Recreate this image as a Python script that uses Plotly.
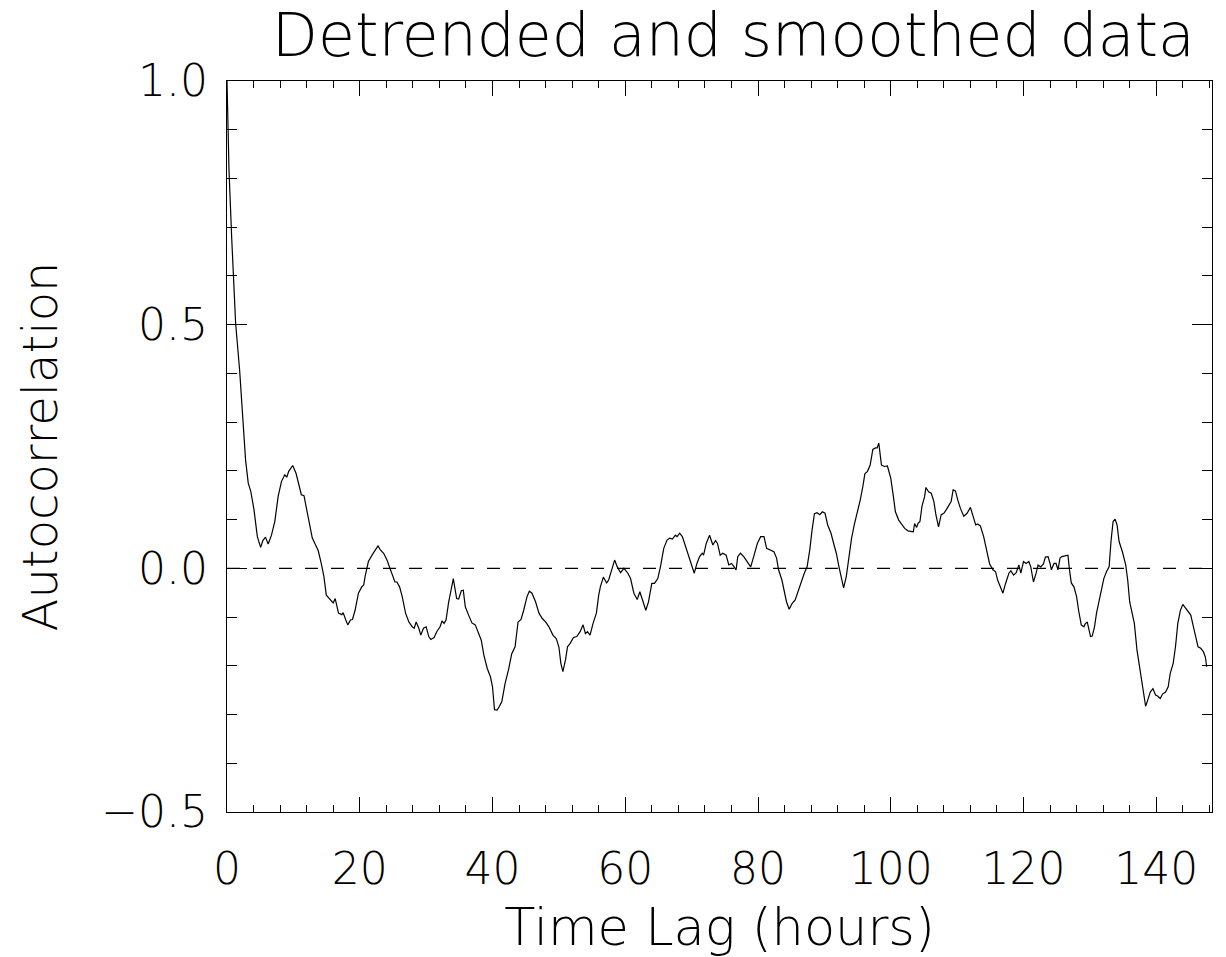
import plotly.graph_objects as go

# Autocorrelation of the detrended, smoothed series versus time lag
lag_hours = [
    0.0, 0.3, 0.7, 1.05, 1.3, 1.9, 2.4, 2.8, 3.2, 3.6, 4.07, 4.57, 5.07, 5.4, 5.8,
    6.2, 6.7, 7.2, 7.7, 8.2, 8.7, 9.0, 9.3, 9.9, 10.4, 10.9, 11.2, 11.6, 12.1,
    12.45, 12.85, 13.35, 13.75, 14.2, 14.6, 14.96, 15.6, 16.0, 16.3, 16.8, 17.3,
    17.5, 17.9, 18.2, 18.6, 18.9, 19.3, 19.8, 20.3, 20.6, 20.8, 21.3, 21.85, 22.35,
    22.75, 23.1, 23.6, 24.1, 24.5, 24.9, 25.3, 25.6, 26.0, 26.4, 26.9, 27.4, 27.9,
    28.2, 28.5, 28.9, 29.2, 29.6, 30.0, 30.4, 30.7, 31.2, 31.6, 32.1, 32.4, 32.7,
    33.0, 33.4, 33.8, 34.1, 34.3, 34.6, 34.9, 35.3, 35.6, 35.9, 36.4, 36.9, 37.4,
    37.9, 38.3, 38.7, 39.2, 39.7, 40.0, 40.3, 40.7, 41.0, 41.4, 41.9, 42.4, 42.9,
    43.4, 43.85, 44.3, 44.7, 45.2, 45.55, 45.95, 46.5, 47.0, 47.5, 48.0, 48.5,
    49.1, 49.6, 50.0, 50.3, 50.6, 51.0, 51.3, 51.7, 52.2, 52.7, 53.2, 53.65, 54.0,
    54.3, 54.7, 55.15, 55.65, 56.0, 56.25, 56.7, 57.2, 57.5, 58.0, 58.4, 58.8,
    59.3, 59.8, 60.4, 60.8, 61.3, 61.8, 62.2, 62.7, 63.1, 63.5, 64.0, 64.4, 64.9,
    65.3, 65.8, 66.3, 66.7, 67.1, 67.55, 67.8, 68.2, 68.6, 69.1, 69.6, 69.9, 70.4,
    70.8, 71.2, 71.6, 71.8, 72.2, 72.7, 73.2, 73.6, 73.9, 74.3, 74.7, 75.2, 75.6,
    76.0, 76.3, 76.7, 76.95, 77.35, 77.85, 78.4, 78.9, 79.35, 79.9, 80.4, 80.9,
    81.3, 81.9, 82.4, 82.8, 83.1, 83.6, 84.0, 84.3, 84.7, 85.1, 85.6, 86.1, 86.6,
    87.0, 87.4, 87.8, 88.15, 88.5, 88.9, 89.3, 89.7, 90.1, 90.5, 91.0, 91.4, 91.8,
    92.2, 92.6, 92.9, 93.3, 93.7, 94.1, 94.5, 94.9, 95.4, 95.8, 96.1, 96.5, 96.9,
    97.3, 97.7, 97.95, 98.2, 98.6, 99.05, 99.5, 100.0, 100.4, 100.7, 101.2, 101.7,
    102.1, 102.6, 103.1, 103.4, 103.6, 103.9, 104.1, 104.4, 104.7, 105.1, 105.3,
    105.7, 106.1, 106.5, 106.8, 107.2, 107.6, 108.0, 108.4, 108.75, 109.1, 109.4,
    109.75, 110.1, 110.5, 111.0, 111.5, 112.0, 112.4, 112.8, 113.1, 113.5, 114.0,
    114.5, 114.9, 115.4, 115.8, 116.1, 116.5, 116.9, 117.3, 117.8, 118.1, 118.5,
    118.9, 119.3, 119.6, 120.0, 120.4, 120.8, 121.1, 121.5, 121.9, 122.2, 122.6,
    123.0, 123.3, 123.7, 124.0, 124.2, 124.6, 124.9, 125.2, 125.5, 125.8, 126.3,
    126.7, 126.9, 127.2, 127.6, 128.0, 128.3, 128.7, 129.1, 129.3, 129.6, 129.85,
    130.1, 130.35, 130.7, 131.0, 131.4, 131.8, 132.1, 132.5, 132.9, 133.2, 133.5,
    133.8, 134.1, 134.4, 134.9, 135.4, 135.7, 136.0, 136.4, 136.7, 137.1, 137.5,
    137.9, 138.1, 138.4, 138.7, 139.1, 139.5, 139.9, 140.2, 140.6, 140.95, 141.4,
    141.8, 142.1, 142.55, 142.9, 143.25, 143.65, 144.0, 144.4, 144.75, 145.2,
    145.5, 145.9, 146.3, 146.7, 147.1, 147.4, 147.6,
]

autocorr = [
    1.0, 0.818, 0.68, 0.578, 0.503, 0.407, 0.29, 0.222, 0.175, 0.157, 0.12, 0.065,
    0.043, 0.057, 0.064, 0.05, 0.068, 0.096, 0.147, 0.178, 0.192, 0.187, 0.199,
    0.211, 0.195, 0.164, 0.151, 0.149, 0.113, 0.085, 0.062, 0.048, 0.036, 0.010,
    -0.017, -0.055, -0.065, -0.071, -0.062, -0.092, -0.095, -0.091, -0.106, -0.116,
    -0.106, -0.105, -0.086, -0.051, -0.038, -0.034, -0.017, 0.014, 0.027, 0.038,
    0.046, 0.038, 0.031, 0.017, 0.003, -0.010, -0.028, -0.028, -0.038, -0.058,
    -0.092, -0.110, -0.120, -0.123, -0.110, -0.123, -0.137, -0.123, -0.120, -0.140,
    -0.146, -0.142, -0.130, -0.120, -0.108, -0.113, -0.106, -0.069, -0.038, -0.021,
    -0.038, -0.062, -0.063, -0.046, -0.045, -0.079, -0.096, -0.112, -0.116, -0.134,
    -0.147, -0.178, -0.205, -0.223, -0.243, -0.290, -0.291, -0.284, -0.274, -0.236,
    -0.209, -0.175, -0.161, -0.110, -0.105, -0.086, -0.058, -0.047, -0.051, -0.069,
    -0.092, -0.103, -0.110, -0.120, -0.137, -0.144, -0.161, -0.195, -0.212, -0.188,
    -0.161, -0.154, -0.142, -0.140, -0.130, -0.116, -0.134, -0.130, -0.137, -0.113,
    -0.092, -0.055, -0.038, -0.018, -0.030, -0.024, 0.0, 0.017, 0.003, -0.009, 0.0,
    -0.010, -0.021, -0.051, -0.064, -0.048, -0.069, -0.086, -0.069, -0.031, -0.031,
    -0.021, 0.003, 0.041, 0.058, 0.062, 0.060, 0.068, 0.065, 0.072, 0.065, 0.044,
    0.024, 0.010, -0.010, 0.010, 0.024, 0.031, 0.027, 0.051, 0.068, 0.048, 0.057,
    0.051, 0.027, 0.031, 0.027, 0.007, 0.010, 0.005, -0.003, 0.024, 0.031, 0.024,
    0.012, 0.003, 0.024, 0.051, 0.065, 0.065, 0.041, 0.038, 0.034, 0.021, -0.003,
    -0.024, -0.048, -0.069, -0.084, -0.073, -0.065, -0.045, -0.024, -0.009, 0.003,
    0.038, 0.079, 0.112, 0.114, 0.110, 0.116, 0.113, 0.089, 0.072, 0.051, 0.031,
    0.003, -0.024, -0.040, -0.017, 0.024, 0.062, 0.089, 0.110, 0.140, 0.168, 0.194,
    0.199, 0.212, 0.244, 0.247, 0.247, 0.257, 0.212, 0.209, 0.210, 0.185, 0.147,
    0.116, 0.099, 0.089, 0.082, 0.077, 0.075, 0.075, 0.092, 0.084, 0.092, 0.096,
    0.127, 0.147, 0.166, 0.157, 0.154, 0.137, 0.110, 0.085, 0.110, 0.113, 0.121,
    0.130, 0.137, 0.161, 0.159, 0.140, 0.123, 0.107, 0.113, 0.125, 0.107, 0.089,
    0.091, 0.087, 0.065, 0.031, 0.009, -0.003, -0.007, -0.024, -0.038, -0.051,
    -0.031, -0.010, -0.005, -0.014, -0.009, 0.007, -0.010, 0.014, 0.010, 0.014,
    0.003, -0.028, -0.010, 0.007, 0.003, 0.009, 0.023, 0.024, 0.010, -0.003, 0.010,
    0.010, -0.003, 0.021, 0.024, 0.025, 0.027, 0.0, -0.030, -0.038, -0.058, -0.086,
    -0.116, -0.120, -0.114, -0.110, -0.123, -0.140, -0.139, -0.120, -0.092, -0.065,
    -0.045, -0.021, -0.007, 0.003, 0.058, 0.096, 0.101, 0.089, 0.055, 0.034, 0.007,
    -0.024, -0.069, -0.092, -0.113, -0.168, -0.205, -0.243, -0.264, -0.283, -0.271,
    -0.254, -0.247, -0.260, -0.262, -0.267, -0.258, -0.254, -0.243, -0.216, -0.195,
    -0.161, -0.113, -0.086, -0.074, -0.082, -0.089, -0.096, -0.114, -0.139, -0.161,
    -0.164, -0.171, -0.182, -0.202,
]

x_range = [0, 148.4]
y_range = [-0.5, 1.0]
x_tick_vals = [0, 20, 40, 60, 80, 100, 120, 140]
y_tick_vals = [-0.5, 0.0, 0.5, 1.0]

title_text = "Detrended and smoothed data"
x_title = "Time Lag (hours)"
y_title = "Autocorrelation"

FONT = "DejaVu Sans"
INK = "black"

fig = go.Figure()

fig.add_trace(go.Scatter(
    x=lag_hours, y=autocorr, mode="lines",
    line=dict(color=INK, width=1.2),
    showlegend=False, hoverinfo="skip",
))

# zero reference line
fig.add_shape(
    type="line", xref="paper", yref="y", x0=0, x1=1, y0=0, y1=0,
    line=dict(color=INK, width=1.2, dash="13px,13px"),
)

axis_common = dict(
    showline=True, linecolor=INK, linewidth=1.3, mirror="ticks",
    ticks="inside", tickcolor=INK, tickwidth=1.2,
    showgrid=False, zeroline=False, automargin=False,
    tickfont=dict(family=FONT, size=44, color=INK, weight=200),
)

fig.update_xaxes(
    range=x_range, tickvals=x_tick_vals, ticklen=14.6,
    minor=dict(ticks="inside", ticklen=7.3, dtick=4, tickcolor=INK, tickwidth=1.2),
    title=dict(text=x_title, font=dict(family=FONT, size=51, color=INK, weight=200),
               standoff=16),
    ticklabelstandoff=18,
    **axis_common,
)
fig.update_yaxes(
    range=y_range, tickvals=y_tick_vals, tickformat=".1f", ticklen=19.7,
    minor=dict(ticks="inside", ticklen=9.85, dtick=0.1, tickcolor=INK, tickwidth=1.2),
    title=dict(text=y_title, font=dict(family=FONT, size=48, color=INK, weight=200),
               standoff=28),
    ticklabelstandoff=9,
    **axis_common,
)

fig.update_layout(
    width=1226, height=957,
    margin=dict(l=227, r=14, t=81, b=145),
    paper_bgcolor="white", plot_bgcolor="white",
    title=dict(text=title_text, x=0.514, xref="paper", xanchor="center",
               y=0.963, yref="container", yanchor="middle", automargin=False,
               font=dict(family=FONT, size=60, color=INK, weight=200)),
)

fig.write_html("out.html")
